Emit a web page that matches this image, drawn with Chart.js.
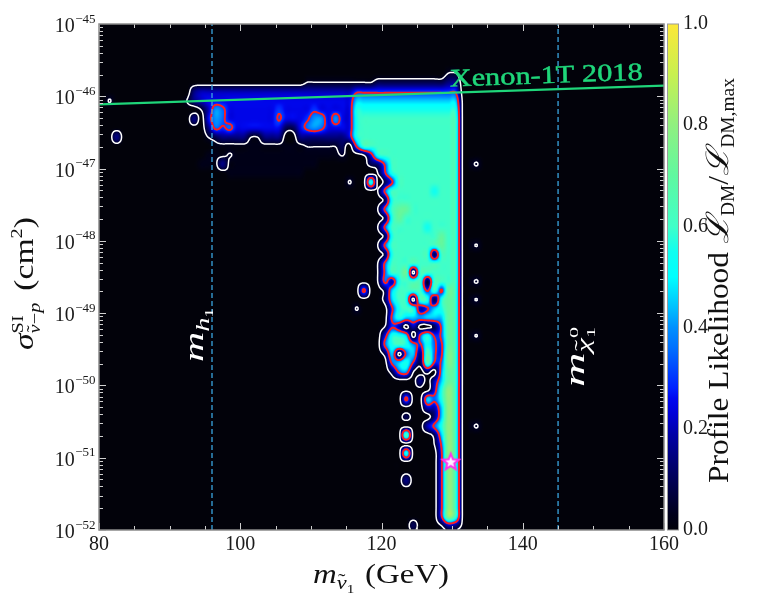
<!DOCTYPE html>
<html><head><meta charset="utf-8">
<script src="https://cdn.jsdelivr.net/npm/chart.js@4.4.1/dist/chart.umd.min.js"></script>
<style>html,body{margin:0;padding:0;background:#fff;}#wrap{width:762px;height:610px;}</style>
</head><body><div id="wrap"><canvas id="c" width="762" height="610"></canvas></div>
<script>
// ---------------- data ----------------
const massRange = [80, 160];            // GeV
const sigmaRange = [1e-52, 1e-45];      // cm^2
const xTicks = [80, 100, 120, 140, 160];
const yDecades = [-52, -51, -50, -49, -48, -47, -46, -45];
const colorbarTicks = [0, 0.2, 0.4, 0.6, 0.8, 1.0];
const contourLevels = [0.045, 0.32];    // white (95%), red (68%)
const higgsMass = [96];
const neutralinoMass = [145];
const xenonMass = [80, 160];
const xenonSigma = [7.74e-47, 1.40e-46];
const bestFitMass = [129.8];
const bestFitSigma = [8.8e-52];
// profile-likelihood cells: columns = 1 GeV from 80 GeV, rows = 1/8 decade from 1e-45 down
const levelCodes = {'.':0, ':':0.025, 'z':0.047, 'a':0.05, 'b':0.15, 'c':0.25, 'y':0.33, 'd':0.35, 'e':0.45,
  'f':0.55, 'g':0.65, 'h':0.75, '1':0.1, '2':0.2, '3':0.3, '4':0.4, '5':0.5, '6':0.6, '7':0.7, '8':0.8, '9':0.9};
const likelihoodRows = [
".......... .......... .......... .......... .......... ......",
".......... .......... .......... .......... .......... ......",
".......... .......... .......... .......... .......... ......",
".......... .......... .......... .......... .......... ......",
".......... .......... .......... .......... .......... ......",
".......... .......... .......... .......... .........a a.....",
".......... .......... .........a aaaaaaaaa1 111111111b b.....",
".......... ...b222222 2222222222 2222223333 3333333333 3.....",
".a........ ..ab2ccccc cccccccccc cccccceeee eeeeeeeeee e:....",
".......... ....a24dcc ccccc3cccc 3cccccffff ffffffffff f:....",
".......... ...b.c4dcc cccccyccc3 44c4ccf666 6666666666 6:....",
".......... .....bd3dc cccccc11cd 4dccccf666 6666666666 6:....",
"..b....... .....a1bbb baabbb..bb bbbbbcf666 6666666666 6:....",
".......... ......:::: :::::::::a aaaa1.d666 6666666666 6:....",
".......... .....:::a: :::::::::: ::::a..acf 6666666666 6:....",
".......... ....:::b:: :::::::::: :.......1b d666666666 6::a..",
".......... ........:: :::::::::. .........a 3f66666666 6:....",
".......... .......... .......... .....a..f. 1366666666 6:....",
".......... .......... .......... .........a d666666f66 6:....",
".......... .......... .......... .......... 1f66666666 6:....",
".......... .......... .......... .........a d677666666 6:....",
".......... .......... .......... .......... 1f76666666 6:....",
".......... .......... .......... .........a d66666f666 6:....",
".......... .......... .......... .......... 1f66666676 6:....",
".......... .......... .......... .........a d666666676 6::z..",
".......... .......... .......... .......... 1f66666166 6:....",
".......... .......... .......... .........a d666666666 6:....",
".......... .......... .......... .........a d667.66666 6:....",
".......... .......... .......... .........a d2f666a666 6::a..",
".......... .......... .......... .......d.. 1e66663637 6:....",
".......... .......... .......... .......... 1e6f.6f1f7 6::z..",
".......... .......... .......... ......a... .3f6f23ef7 6:....",
".......... .......... .......... .......... .dfee4eee7 6:....",
".......... .......... .......... .......... a32.2..1d7 6:....",
".......... .......... .......... .......... cffe.df3d7 6::z..",
".......... .......... .......... .......... df6f43fd37 6:....",
".......... .......... .......... .......... 1e.debgd3h 6:....",
".......... .......... .......... .......... .def31g3dh 6:....",
".......... .......... .......... .......... .1d4a.1.47 6:....",
".......... .......... .......... .......... .....b.2e7 6:....",
".......... .......... .......... .......... .......cf8 6:....",
".......... .......... .......... .......... ...d..edf8 6:....",
".......... .......... .......... .......... ......22e8 6:....",
".......... .......... .......... .......... ...1...be8 6:....",
".......... .......... .......... .......... ......2df8 6::a..",
".......... .......... .......... .......... ...g...1e8 6:....",
".......... .......... .......... .......... .......ad8 6:....",
".......... .......... .......... .......... ...f....38 6:....",
".......... .......... .......... .......... ........38 6:....",
".......... .......... .......... .......... ........38 6:....",
".......... .......... .......... .......... ...b....38 6:....",
".......... .......... .......... .......... ........38 6:....",
".......... .......... .......... .......... ........38 6:....",
".......... .......... .......... .......... ........38 6:....",
".......... .......... .......... .......... ........38 6:....",
".......... .......... .......... .......... ....1...a2 b:...."
];
// colormap stops (value, r, g, b)
const cmapStops = [
 [0.0,2,2,10],[0.03,0,0,26],[0.065,0,0,56],[0.13,0,0,112],[0.19,0,0,168],[0.23,0,0,216],
 [0.26,0,8,240],[0.28,0,32,255],[0.32,0,72,255],[0.36,0,112,255],[0.40,0,144,255],[0.44,0,192,255],
 [0.50,0,255,255],[0.55,16,255,240],[0.60,64,255,200],[0.70,96,248,160],[0.80,144,240,128],
 [0.90,200,240,80],[1.0,252,232,56]];

// ---------------- helpers ----------------
const SERIF = '"Liberation Serif", "DejaVu Serif", serif';
function cmap(v){
  v = Math.max(0, Math.min(1, v));
  for (let i = 1; i < cmapStops.length; i++){
    const a = cmapStops[i-1], b = cmapStops[i];
    if (v <= b[0]){ const t = (v - a[0]) / (b[0] - a[0]);
      return [a[1]+(b[1]-a[1])*t, a[2]+(b[2]-a[2])*t, a[3]+(b[3]-a[3])*t]; }
  }
  const l = cmapStops[cmapStops.length-1]; return [l[1], l[2], l[3]];
}
const NR = likelihoodRows.length;
const NC = massRange[1] - massRange[0];
const grid = likelihoodRows.map(s => { const t = s.replace(/ /g,''); const a = [];
  for (let c = 0; c < NC; c++) a.push(c < t.length ? (levelCodes[t[c]] ?? 0) : 0); return a; });
function G(r, c){ return (r < 0 || r >= NR || c < 0 || c >= NC) ? 0 : grid[r][c]; }
function crw(t){ const t2 = t*t, t3 = t2*t;
  return [(-t3+2*t2-t)/2, (3*t3-5*t2+2)/2, (-3*t3+4*t2+t)/2, (t3-t2)/2]; }
const K = 6, W = NC*K, H = NR*K;
const field = new Float32Array(W*H);
const colW = [], colI = [];
for (let j = 0; j < W; j++){ const u = (j+0.5)/K - 0.5; const c0 = Math.floor(u); colI.push(c0); colW.push(crw(u-c0)); }
for (let i = 0; i < H; i++){
  const v = (i+0.5)/K - 0.5, r0 = Math.floor(v), wy = crw(v-r0);
  for (let j = 0; j < W; j++){
    const c0 = colI[j], wx = colW[j]; let s = 0;
    for (let a = 0; a < 4; a++){ const rr = r0-1+a; if (wy[a] === 0) continue;
      for (let b = 0; b < 4; b++) s += wy[a]*wx[b]*G(rr, c0-1+b); }
    field[i*W+j] = s;
  }
}
const heatCanvas = document.createElement('canvas'); heatCanvas.width = W; heatCanvas.height = H;
(function(){ const hc = heatCanvas.getContext('2d'); const img = hc.createImageData(W, H);
  for (let p = 0; p < W*H; p++){ const c = cmap(field[p]);
    img.data[4*p] = c[0]; img.data[4*p+1] = c[1]; img.data[4*p+2] = c[2]; img.data[4*p+3] = 255; }
  hc.putImageData(img, 0, 0); })();
function contourSegs(level){
  const segs = [];
  const f = (i,j) => field[i*W+j];
  for (let i = 0; i < H-1; i++) for (let j = 0; j < W-1; j++){
    const a = f(i,j), b = f(i,j+1), c = f(i+1,j+1), d = f(i+1,j);
    const idx = (a>level?8:0)|(b>level?4:0)|(c>level?2:0)|(d>level?1:0);
    if (idx === 0 || idx === 15) continue;
    const T = () => [i, j+(level-a)/(b-a)], R = () => [i+(level-b)/(c-b), j+1],
          B = () => [i+1, j+(level-d)/(c-d)], L = () => [i+(level-a)/(d-a), j];
    switch (idx){
      case 1: case 14: segs.push([L(),B()]); break;
      case 2: case 13: segs.push([B(),R()]); break;
      case 3: case 12: segs.push([L(),R()]); break;
      case 4: case 11: segs.push([T(),R()]); break;
      case 6: case 9: segs.push([T(),B()]); break;
      case 7: case 8: segs.push([L(),T()]); break;
      case 5: case 10: {
        const ctr = (a+b+c+d)/4 > level;
        if ((idx === 5) === ctr){ segs.push([L(),T()]); segs.push([B(),R()]); }
        else { segs.push([T(),R()]); segs.push([L(),B()]); }
      }
    }
  }
  return segs;
}
const contours = contourLevels.map(contourSegs);

function drawRich(ctx, x, y, rot, pieces, target, color, stroke){
  ctx.save(); ctx.translate(x, y); ctx.rotate(rot);
  let pen = 0, maxw = 0, mark = 0, lastStart = 0, lastW = 0; const xs = [];
  for (const p of pieces){
    ctx.font = p.font; const pw = ctx.measureText(p.t).width;
    if (p.fromMax) pen = maxw;
    if (p.mark) mark = pen;
    if (p.reset) pen = mark;
    if (p.over){ xs.push(lastStart + (lastW-pw)/2 + (p.dx||0)); continue; }
    const x0 = pen + (p.dx||0); xs.push(x0); lastStart = x0; lastW = pw; pen = x0 + pw; maxw = Math.max(maxw, pen);
  }
  const sx = target ? target / maxw : 1;
  ctx.scale(sx, 1); ctx.fillStyle = color; ctx.textBaseline = 'alphabetic'; ctx.textAlign = 'left';
  pieces.forEach((p, i) => { ctx.font = p.font; ctx.fillText(p.t, xs[i], p.dy||0);
    if (stroke){ ctx.strokeStyle = color; ctx.lineWidth = stroke; ctx.strokeText(p.t, xs[i], p.dy||0); } });
  ctx.restore();
}
const F = (s, it) => (it ? 'italic ' : '') + s + 'px ' + SERIF;

const starImg = document.createElement('canvas'); starImg.width = 24; starImg.height = 24;
(function(){ const s = starImg.getContext('2d'); s.beginPath();
  for (let i = 0; i < 10; i++){ const r = i%2 ? 3.7 : 8.6, an = -Math.PI/2 + i*Math.PI/5;
    s.lineTo(12 + r*Math.cos(an), 12.5 + r*Math.sin(an)); }
  s.closePath(); s.fillStyle = '#fff0ff'; s.fill(); s.strokeStyle = '#ff30f0'; s.lineWidth = 2; s.stroke(); })();

const plotPlugin = {
  id: 'plotPlugin',
  beforeDatasetsDraw(chart){
    const {ctx, chartArea: A, scales: {x, y}} = chart;
    const L = x.getPixelForValue(massRange[0]), R = x.getPixelForValue(massRange[1]);
    const T = y.getPixelForValue(sigmaRange[1]), B = y.getPixelForValue(sigmaRange[0]);
    ctx.save();
    ctx.imageSmoothingEnabled = true; ctx.imageSmoothingQuality = 'high';
    ctx.drawImage(heatCanvas, L, T, R-L, B-T);
    ctx.beginPath(); ctx.rect(A.left, A.top, A.width, A.height); ctx.clip();
    const styles = [['#ffffff', 1.5], ['#ff1e1e', 1.9]];
    contours.forEach((segs, k) => {
      ctx.beginPath();
      for (const [p, q] of segs){
        ctx.moveTo(x.getPixelForValue(massRange[0] + (p[1]+0.5)/K), y.getPixelForValue(Math.pow(10, -45 - (p[0]+0.5)/K/8)));
        ctx.lineTo(x.getPixelForValue(massRange[0] + (q[1]+0.5)/K), y.getPixelForValue(Math.pow(10, -45 - (q[0]+0.5)/K/8)));
      }
      ctx.strokeStyle = styles[k][0]; ctx.lineWidth = styles[k][1]; ctx.lineCap = 'round'; ctx.stroke();
    });
    ctx.restore();
  },
  afterDatasetsDraw(chart){
    const {ctx, chartArea: A, scales: {x, y}} = chart;
    ctx.save();
    // in-plot labels
    drawRich(ctx, 450, 86.5, -0.035, [{t:'Xenon-1T 2018', font:F(25)}], 193, '#1fd67a', 0.5);
    drawRich(ctx, 203, 362, -Math.PI/2, [{t:'m', font:F(28,1)}, {t:'h', font:F(19,1), dy:6}, {t:'1', font:F(13), dy:10}], 54, '#ffffff');
    drawRich(ctx, 584, 387, -Math.PI/2, [{t:'m', font:F(28,1)}, {t:'χ', font:F(19,1), dy:6}, {t:'˜', font:F(19), dy:4, over:true},
      {t:'0', font:F(13), dy:-6, mark:true}, {t:'1', font:F(13), dy:11, reset:true}], 60, '#ffffff');
    // frame + inner ticks
    ctx.strokeStyle = '#d0d0d0'; ctx.lineWidth = 1;
    ctx.beginPath();
    for (let m = massRange[0]; m <= massRange[1]; m += 5){
      const px = Math.round(x.getPixelForValue(m)) + 0.5, len = (m % 20 === 0) ? 7 : 4;
      ctx.moveTo(px, A.bottom); ctx.lineTo(px, A.bottom - len);
      ctx.moveTo(px, A.top); ctx.lineTo(px, A.top + len);
    }
    for (let e = yDecades[0]; e < yDecades[yDecades.length-1]; e++){
      for (let k = 1; k <= 9; k++){
        const py = Math.round(y.getPixelForValue(k*Math.pow(10, e))) + 0.5, len = k === 1 ? 7 : 4;
        ctx.moveTo(A.left, py); ctx.lineTo(A.left + len, py);
        ctx.moveTo(A.right, py); ctx.lineTo(A.right - len, py);
      }
    }
    ctx.stroke();
    ctx.strokeStyle = '#8a8a8a'; ctx.lineWidth = 1.5;
    ctx.strokeRect(A.left, A.top, A.width, A.height);
    ctx.restore();
  },
  afterDraw(chart){
    const {ctx, chartArea: A, scales: {x, y, cb}} = chart;
    ctx.save();
    // y tick labels 10^n
    ctx.fillStyle = '#1a1a1a'; ctx.textBaseline = 'alphabetic'; ctx.textAlign = 'left';
    for (const e of yDecades){
      const py = y.getPixelForValue(Math.pow(10, e));
      const ex = '−' + Math.abs(e);
      ctx.font = F(13); const we = ctx.measureText(ex).width;
      ctx.font = F(20); const wb = ctx.measureText('10').width;
      const x0 = A.left - 4 - we - wb;
      ctx.fillText('10', x0, py + 8);
      ctx.font = F(13); ctx.fillText(ex, x0 + wb + 0.5, py - 1.5);
    }
    // colour bar
    const top = cb.getPixelForValue(1), bot = cb.getPixelForValue(0);
    const g = ctx.createLinearGradient(0, bot, 0, top);
    for (const s of cmapStops) g.addColorStop(s[0], 'rgb(' + s[1] + ',' + s[2] + ',' + s[3] + ')');
    ctx.fillStyle = g; ctx.fillRect(667, top, 11, bot - top);
    ctx.strokeStyle = '#9a9a9a'; ctx.lineWidth = 1; ctx.strokeRect(667.5, top, 11, bot - top);
    // axis titles
    drawRich(ctx, 313, 583, 0, [{t:'m', font:F(28,1)}, {t:'ν', font:F(19,1), dy:6}, {t:'˜', font:F(19), dy:4, over:true},
      {t:'1', font:F(13), dy:10}, {t:' (GeV)', font:F(28), dx:2}], 136, '#111');
    drawRich(ctx, 33, 350, -Math.PI/2, [{t:'σ', font:F(28,1)}, {t:'SI', font:F(17), dy:-10, mark:true},
      {t:'ν', font:F(17,1), dy:7, reset:true}, {t:'˜', font:F(17), dy:5, over:true}, {t:'−', font:F(17), dy:7}, {t:'p', font:F(17,1), dy:7},
      {t:' (cm', font:F(28), fromMax:true, dx:3}, {t:'2', font:F(17), dy:-11}, {t:')', font:F(28)}], 133, '#111');
    drawRich(ctx, 728, 483, -Math.PI/2, [{t:'Profile Likelihood ', font:F(29)}, {t:'ℒ', font:F(31,1)}, {t:'DM', font:F(18), dy:6},
      {t:'/', font:F(29)}, {t:'ℒ', font:F(31,1)}, {t:'DM,max', font:F(18), dy:6}], 405, '#111');
    ctx.restore();
  }
};

const noPad = s => { s.paddingTop = 0; s.paddingBottom = 0; s.paddingLeft = 0; s.paddingRight = 0; };
const line = (m) => [{x: m, y: sigmaRange[0]}, {x: m, y: sigmaRange[1]}];
new Chart(document.getElementById('c'), {
  type: 'scatter',
  data: { datasets: [
    { label: 'best fit', data: bestFitMass.map((m, i) => ({x: m, y: bestFitSigma[i]})), pointStyle: starImg, pointRadius: 9, showLine: false },
    { label: 'Xenon-1T 2018', data: xenonMass.map((m, i) => ({x: m, y: xenonSigma[i]})), showLine: true, borderColor: '#1fd67a', borderWidth: 2.2, pointRadius: 0 },
    { label: 'm_h1', data: line(higgsMass[0]), showLine: true, borderColor: '#3aa6e0', borderWidth: 1.3, borderDash: [5, 3], pointRadius: 0 },
    { label: 'm_chi', data: line(neutralinoMass[0]), showLine: true, borderColor: '#3aa6e0', borderWidth: 1.3, borderDash: [5, 3], pointRadius: 0 }
  ]},
  options: {
    responsive: false, animation: false, devicePixelRatio: 1,
    layout: { padding: { top: 24, left: 0, right: 0, bottom: 0 } },
    plugins: { legend: { display: false }, tooltip: { enabled: false } },
    scales: {
      x: { type: 'linear', min: massRange[0], max: massRange[1], position: 'bottom',
           afterBuildTicks: s => { s.ticks = xTicks.map(v => ({value: v})); },
           ticks: { font: { family: SERIF, size: 20 }, color: '#1a1a1a', padding: 3, maxRotation: 0 },
           grid: { display: false, drawTicks: false }, border: { display: false },
           afterFit: s => { s.height = 80; noPad(s); } },
      y: { type: 'logarithmic', min: sigmaRange[0], max: sigmaRange[1], position: 'left',
           ticks: { display: false }, grid: { display: false, drawTicks: false }, border: { display: false },
           afterFit: s => { s.width = 99; noPad(s); } },
      cb: { type: 'linear', min: 0, max: 1, position: 'right',
           afterBuildTicks: s => { s.ticks = colorbarTicks.map(v => ({value: v})); },
           ticks: { font: { family: SERIF, size: 20 }, color: '#1a1a1a', padding: 19, callback: v => Number(v).toFixed(1) },
           grid: { display: false, drawTicks: false }, border: { display: false },
           afterFit: s => { s.width = 98; noPad(s); } }
    }
  },
  plugins: [plotPlugin]
});
</script>
</body></html>
